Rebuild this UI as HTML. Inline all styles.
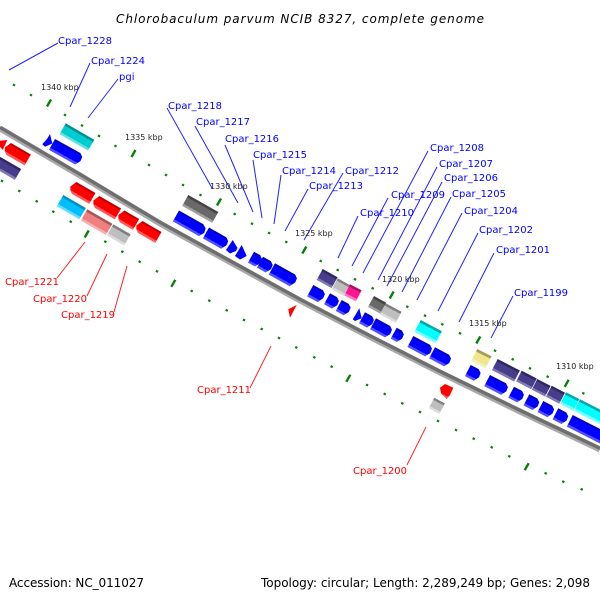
<!DOCTYPE html>
<html><head><meta charset="utf-8"><style>
html,body{margin:0;padding:0;background:#fff}
svg{display:block;filter:blur(.35px)}
text{font-family:"DejaVu Sans","Liberation Sans",sans-serif}
.b text{fill:#0000ff;font-size:10px}
.r text{fill:#ff0000;font-size:10px}
.k text{fill:#222;font-size:8px}
.f text{fill:#000;font-size:12px}
.lb line{stroke:#2222ff;stroke-width:1}
.lr line{stroke:#ff2222;stroke-width:1}
.t line{stroke:#0a7f0a;stroke-width:2.4}
</style></head><body>
<svg width="600" height="600" viewBox="0 0 600 600" xmlns="http://www.w3.org/2000/svg">
<defs>
<linearGradient id="B" x1="0" y1="0" x2="0" y2="1"><stop offset=".14" stop-color="#0000b8"/><stop offset=".14" stop-color="#0000ff"/><stop offset=".8" stop-color="#0000ff"/><stop offset=".8" stop-color="#5050ff"/></linearGradient>
<linearGradient id="R" x1="0" y1="0" x2="0" y2="1"><stop offset=".16" stop-color="#c00000"/><stop offset=".16" stop-color="#ff0000"/><stop offset=".8" stop-color="#ff0000"/><stop offset=".8" stop-color="#ff5555"/></linearGradient>
<linearGradient id="P" x1="0" y1="0" x2="0" y2="1"><stop offset=".2" stop-color="#2e2766"/><stop offset=".2" stop-color="#483d8b"/><stop offset=".8" stop-color="#483d8b"/><stop offset=".8" stop-color="#8078b0"/></linearGradient>
<linearGradient id="T" x1="0" y1="0" x2="0" y2="1"><stop offset=".2" stop-color="#009090"/><stop offset=".2" stop-color="#00cdcd"/><stop offset=".8" stop-color="#00cdcd"/><stop offset=".8" stop-color="#66e0e0"/></linearGradient>
<linearGradient id="C" x1="0" y1="0" x2="0" y2="1"><stop offset=".2" stop-color="#00aaaa"/><stop offset=".2" stop-color="#00ffff"/><stop offset=".8" stop-color="#00ffff"/><stop offset=".8" stop-color="#77ffff"/></linearGradient>
<linearGradient id="D" x1="0" y1="0" x2="0" y2="1"><stop offset=".2" stop-color="#444"/><stop offset=".2" stop-color="#696969"/><stop offset=".8" stop-color="#696969"/><stop offset=".8" stop-color="#a0a0a0"/></linearGradient>
<linearGradient id="G" x1="0" y1="0" x2="0" y2="1"><stop offset=".2" stop-color="#808080"/><stop offset=".2" stop-color="#bebebe"/><stop offset=".8" stop-color="#bebebe"/><stop offset=".8" stop-color="#dcdcdc"/></linearGradient>
<linearGradient id="S" x1="0" y1="0" x2="0" y2="1"><stop offset=".2" stop-color="#0090c0"/><stop offset=".2" stop-color="#00bfff"/><stop offset=".8" stop-color="#00bfff"/><stop offset=".8" stop-color="#66d9ff"/></linearGradient>
<linearGradient id="O" x1="0" y1="0" x2="0" y2="1"><stop offset=".2" stop-color="#a85858"/><stop offset=".2" stop-color="#f08080"/><stop offset=".8" stop-color="#f08080"/><stop offset=".8" stop-color="#f5b0b0"/></linearGradient>
<linearGradient id="M" x1="0" y1="0" x2="0" y2="1"><stop offset=".2" stop-color="#aa1066"/><stop offset=".2" stop-color="#ff1493"/><stop offset=".8" stop-color="#ff1493"/><stop offset=".8" stop-color="#ff77bb"/></linearGradient>
<linearGradient id="K" x1="0" y1="0" x2="0" y2="1"><stop offset=".2" stop-color="#a89a5c"/><stop offset=".2" stop-color="#f0e68c"/><stop offset=".8" stop-color="#f0e68c"/><stop offset=".8" stop-color="#f5f0bb"/></linearGradient>
</defs>

<text x="300" y="23" text-anchor="middle" font-size="12" font-style="italic" fill="#000" textLength="368" lengthAdjust="spacing">Chlorobaculum parvum NCIB 8327, complete genome</text>

<!-- backbone -->
<polyline points="0,128.5 80,175.5 160,223.5 230,262 300,300.5 370,337 440,372.5 520,411.5 600,449.5" fill="none" stroke="#a9a9a9" stroke-width="6"/>
<polyline points="0,127.3 80,174.3 160,222.3 230,260.8 300,299.3 370,335.8 440,371.3 520,410.3 600,448.3" fill="none" stroke="#6e6e6e" stroke-width="3.4"/>

<!-- upper ticks -->
<g class="t">
<line x1="13.5" y1="86" x2="14.5" y2="84"/><line x1="30.5" y1="96" x2="31.5" y2="94"/><line x1="47" y1="106.5" x2="51" y2="99.5"/><line x1="64.5" y1="116" x2="65.5" y2="114"/><line x1="81.5" y1="126.5" x2="82.5" y2="124.5"/><line x1="98.5" y1="137" x2="99.5" y2="135"/><line x1="115" y1="147" x2="116" y2="145"/><line x1="131.5" y1="157" x2="135.5" y2="150"/><line x1="148.5" y1="166" x2="149.5" y2="164"/><line x1="165.5" y1="176" x2="166.5" y2="174"/><line x1="182.5" y1="186" x2="183.5" y2="184"/><line x1="200" y1="196" x2="201" y2="194"/><line x1="217" y1="205.5" x2="221" y2="198.5"/><line x1="234.2" y1="215" x2="235.2" y2="213"/><line x1="251.5" y1="224.7" x2="252.5" y2="222.7"/><line x1="268.5" y1="234" x2="269.5" y2="232"/><line x1="285.8" y1="243" x2="286.8" y2="241"/><line x1="302.3" y1="253.5" x2="306.3" y2="246.5"/><line x1="320.2" y1="262" x2="321.2" y2="260"/><line x1="337.2" y1="271" x2="338.2" y2="269"/><line x1="354.5" y1="280.3" x2="355.5" y2="278.3"/><line x1="372.2" y1="289.3" x2="373.2" y2="287.3"/><line x1="389.7" y1="298.5" x2="393.7" y2="291.5"/><line x1="406.8" y1="307.7" x2="407.8" y2="305.7"/><line x1="424.5" y1="316.7" x2="425.5" y2="314.7"/><line x1="441.8" y1="325.3" x2="442.8" y2="323.3"/><line x1="459.5" y1="334.3" x2="460.5" y2="332.3"/><line x1="476.3" y1="343.5" x2="480.3" y2="336.5"/><line x1="494.5" y1="351.7" x2="495.5" y2="349.7"/><line x1="512.2" y1="360.3" x2="513.2" y2="358.3"/><line x1="529.5" y1="369.3" x2="530.5" y2="367.3"/><line x1="547.2" y1="377.7" x2="548.2" y2="375.7"/><line x1="564.7" y1="386.8" x2="568.7" y2="379.8"/><line x1="582.8" y1="394.3" x2="583.8" y2="392.3"/>
</g>
<!-- lower ticks -->
<g class="t">
<line x1="1.5" y1="182" x2="2.5" y2="180"/><line x1="18.8" y1="192" x2="19.8" y2="190"/><line x1="36.2" y1="202.3" x2="37.2" y2="200.3"/><line x1="52.8" y1="212.7" x2="53.8" y2="210.7"/><line x1="70.2" y1="222.7" x2="71.2" y2="220.7"/><line x1="84.7" y1="237.5" x2="88.7" y2="230.5"/><line x1="104.8" y1="242.7" x2="105.8" y2="240.7"/><line x1="121.8" y1="252.7" x2="122.8" y2="250.7"/><line x1="139.2" y1="262.7" x2="140.2" y2="260.7"/><line x1="156.5" y1="272.3" x2="157.5" y2="270.3"/><line x1="171.3" y1="286.8" x2="175.3" y2="279.8"/><line x1="191.2" y1="292" x2="192.2" y2="290"/><line x1="208.8" y1="301.7" x2="209.8" y2="299.7"/><line x1="226.2" y1="311.3" x2="227.2" y2="309.3"/><line x1="243.5" y1="321" x2="244.5" y2="319"/><line x1="261.2" y1="330" x2="262.2" y2="328"/><line x1="278.5" y1="339" x2="279.5" y2="337"/><line x1="295.8" y1="348.5" x2="296.8" y2="346.5"/><line x1="313.8" y1="358.3" x2="314.8" y2="356.3"/><line x1="331.2" y1="367.7" x2="332.2" y2="365.7"/><line x1="346.3" y1="381.8" x2="350.3" y2="374.8"/><line x1="366.5" y1="386" x2="367.5" y2="384"/><line x1="384.2" y1="395" x2="385.2" y2="393"/><line x1="401.8" y1="404.3" x2="402.8" y2="402.3"/><line x1="419.5" y1="413" x2="420.5" y2="411"/><line x1="437.5" y1="422" x2="438.5" y2="420"/><line x1="455.5" y1="431" x2="456.5" y2="429"/><line x1="473.2" y1="439.7" x2="474.2" y2="437.7"/><line x1="491.2" y1="448.3" x2="492.2" y2="446.3"/><line x1="508.8" y1="457.3" x2="509.8" y2="455.3"/><line x1="524.7" y1="470.2" x2="528.7" y2="463.2"/><line x1="545.2" y1="474.3" x2="546.2" y2="472.3"/><line x1="562.8" y1="482.7" x2="563.8" y2="480.7"/><line x1="581.2" y1="490.3" x2="582.2" y2="488.3"/>
</g>

<!-- connectors blue -->
<g class="lb">
<line x1="58" y1="43" x2="9" y2="70"/><line x1="90" y1="63" x2="70" y2="107"/><line x1="118" y1="79" x2="88" y2="118"/><line x1="167" y1="108" x2="212" y2="188"/><line x1="195" y1="126" x2="238" y2="203"/><line x1="225" y1="145" x2="253" y2="212"/><line x1="253" y1="160" x2="262" y2="218"/><line x1="281" y1="175" x2="274" y2="224"/><line x1="308" y1="189" x2="285" y2="231"/><line x1="343" y1="173" x2="304" y2="240"/><line x1="358" y1="216" x2="338" y2="258"/><line x1="388" y1="198" x2="352" y2="266"/><line x1="428" y1="151" x2="363" y2="273"/><line x1="437" y1="167" x2="378" y2="280"/><line x1="442" y1="182" x2="387" y2="286"/><line x1="451" y1="197" x2="402" y2="292"/><line x1="462" y1="213" x2="417" y2="300"/><line x1="478" y1="233" x2="438" y2="311"/><line x1="494" y1="253" x2="459" y2="322"/><line x1="513" y1="296" x2="491" y2="338"/>
</g>
<g class="lr">
<line x1="57" y1="278" x2="85" y2="242"/><line x1="87" y1="296" x2="107" y2="254"/><line x1="114" y1="312" x2="127" y2="266"/><line x1="250" y1="388" x2="271" y2="346"/><line x1="407" y1="465" x2="426" y2="427"/>
</g>

<!-- genes: left -->
<rect width="33" height="12.5" fill="url(#T)" transform="translate(65.7,123.3)rotate(30)"/>
<polygon points="50,134 52.3,143.5 45,146.7 42.3,144.3 47,139" fill="#0000ff"/>
<polygon points="0,0 29,0 32.5,2.5 33,7 30,12.5 0,12.5" fill="url(#B)" transform="translate(55,139)rotate(29)"/>
<polygon points="0,140.7 7.3,140 2.7,150 0,146.7" fill="#ff0000"/>
<polygon points="4,0 27,0 27,12.5 6,12.5 3,10.5 1,7" fill="url(#R)" transform="translate(7.5,141)rotate(30)"/>
<rect width="36" height="12.5" fill="url(#P)" transform="translate(-10,151)rotate(30)"/>

<polygon points="4,0 26,0 26,12.5 6,12.5 3,10.5 1,7" fill="url(#R)" transform="translate(73,180)rotate(30)"/>
<polygon points="4,0 29,0 29,12.5 6,12.5 3,10.5 1,7" fill="url(#R)" transform="translate(96,194)rotate(30)"/>
<polygon points="4,0 21,0 21,12.5 6,12.5 3,10.5 1,7" fill="url(#R)" transform="translate(121,208.5)rotate(30)"/>
<polygon points="4,0 26,0 26,12.5 6,12.5 3,10.5 1,7" fill="url(#R)" transform="translate(139,219)rotate(30)"/>
<rect width="26" height="13" fill="url(#S)" transform="translate(63.3,195)rotate(30)"/>
<rect width="29" height="13" fill="url(#O)" transform="translate(87.3,209.3)rotate(30)"/>
<rect width="20" height="13" fill="url(#G)" transform="translate(113.3,224.3)rotate(30)"/>

<!-- genes: centre -->
<rect width="34.5" height="12.5" fill="url(#D)" transform="translate(188.3,195)rotate(29.5)"/>
<polygon points="0,0 28,0 32,2.5 33,7 30,12.5 0,12.5" fill="url(#B)" transform="translate(179,210.5)rotate(29.5)"/>
<polygon points="0,0 20,0 23.5,2.5 24,7 21,12.5 0,12.5" fill="url(#B)" transform="translate(209,227.5)rotate(29.5)"/>
<polygon points="232.7,240 237.5,248 236,251 230,253.5 226,250" fill="#0000ff"/>
<polygon points="241.7,245 246.7,256 240,259.5 235,256" fill="#0000ff"/>
<polygon points="0,0 7,0 10.5,2.5 11,7 8,12.5 0,12.5" fill="url(#B)" transform="translate(254,251.7)rotate(29)"/>
<polygon points="0,0 9,0 12.5,2.5 13,7 10,12.5 0,12.5" fill="url(#B)" transform="translate(263,256.7)rotate(29)"/>
<polygon points="0,0 23,0 26.5,2.5 27,7 24,13 0,13" fill="url(#B)" transform="translate(275,263.3)rotate(29)"/>

<rect width="17" height="12.5" fill="url(#P)" transform="translate(322.7,269)rotate(29)"/>
<rect width="14" height="12.5" fill="url(#G)" transform="translate(337.7,278.3)rotate(29)"/>
<rect width="13" height="12.5" fill="url(#M)" transform="translate(350,284.3)rotate(27)"/>
<rect width="14" height="12.5" fill="url(#D)" transform="translate(374,296)rotate(29)"/>
<rect width="18" height="12.5" fill="url(#G)" transform="translate(385.7,303.3)rotate(28)"/>
<rect width="24" height="13.5" fill="url(#C)" transform="translate(420.7,320)rotate(28)"/>

<polygon points="0,0 11,0 14.5,2.5 15,7 12,13 0,13" fill="url(#B)" transform="translate(313.3,285)rotate(28.5)"/>
<polygon points="0,0 8,0 11.5,2.5 12,7 9,12.5 0,12.5" fill="url(#B)" transform="translate(330,293.3)rotate(28.5)"/>
<polygon points="0,0 8,0 11.5,2.5 12,7 9,12.5 0,12.5" fill="url(#B)" transform="translate(341.7,300)rotate(28.5)"/>
<polygon points="359.3,308.3 361.7,318.3 355,321 352.7,319.3 356,314" fill="#0000ff"/>
<polygon points="0,0 8,0 11.5,2.5 12,7 9,12.5 0,12.5" fill="url(#B)" transform="translate(365,312.3)rotate(28.5)"/>
<polygon points="0,0 16,0 19.5,2.5 20,7 17,12.5 0,12.5" fill="url(#B)" transform="translate(376,318.3)rotate(28.5)"/>
<polygon points="0,0 6,0 9.5,2.5 10,7 7,12.5 0,12.5" fill="url(#B)" transform="translate(396.7,327.7)rotate(28.5)"/>
<polygon points="0,0 19,0 22.5,2.5 23,7 20,12.5 0,12.5" fill="url(#B)" transform="translate(413.3,336)rotate(28)"/>
<polygon points="0,0 16,0 19.5,2.5 20,7 17,12.5 0,12.5" fill="url(#B)" transform="translate(435,347.3)rotate(28)"/>

<polygon points="445,384 453.3,387.7 450,395 446.7,399 441,393.3 440,387.7" fill="#ff0000"/>
<polygon points="441,393.3 446.7,396.5 449.8,395.5 446.7,399" fill="#ff6060"/>
<rect width="12" height="12" fill="url(#G)" transform="translate(434.3,397.7)rotate(28)"/>
<polygon points="296.7,305 290,317.7 288.3,309.3" fill="#ff0000"/>

<!-- genes: right -->
<rect width="16" height="13.5" fill="url(#K)" transform="translate(477.3,349)rotate(27)"/>
<rect width="25" height="12.5" fill="url(#P)" transform="translate(497.7,359)rotate(27.5)"/>
<rect width="17" height="12" fill="url(#P)" transform="translate(521.7,370.7)rotate(27.5)"/>
<rect width="15" height="12" fill="url(#P)" transform="translate(537.3,379)rotate(27.5)"/>
<rect width="15" height="12.5" fill="url(#P)" transform="translate(551.7,385.7)rotate(27.5)"/>
<rect width="15" height="13" fill="url(#C)" transform="translate(566,392.3)rotate(27)"/>
<rect width="30" height="13" fill="url(#C)" transform="translate(580,399.3)rotate(27)"/>

<polygon points="0,0 9,0 12.5,2.5 13,7 10,12.5 0,12.5" fill="url(#B)" transform="translate(470.7,365)rotate(27.5)"/>
<polygon points="0,0 18,0 21.5,2.5 22,7 19,12.5 0,12.5" fill="url(#B)" transform="translate(490,375)rotate(27.5)"/>
<polygon points="0,0 9,0 12.5,2.5 13,7 10,12.5 0,12.5" fill="url(#B)" transform="translate(514,386.7)rotate(27.5)"/>
<polygon points="0,0 9,0 12.5,2.5 13,7 10,12.5 0,12.5" fill="url(#B)" transform="translate(529.3,394.3)rotate(27.5)"/>
<polygon points="0,0 10,0 13.5,2.5 14,7 11,12.5 0,12.5" fill="url(#B)" transform="translate(543.3,401)rotate(27.5)"/>
<polygon points="0,0 9,0 12.5,2.5 13,7 10,12.5 0,12.5" fill="url(#B)" transform="translate(558.3,408.3)rotate(27.5)"/>
<rect width="50" height="13" fill="url(#B)" transform="translate(572.7,415)rotate(27)"/>

<!-- labels -->
<g class="b">
<text x="58" y="44">Cpar_1228</text><text x="91" y="64">Cpar_1224</text><text x="119" y="80">pgi</text><text x="168" y="109">Cpar_1218</text><text x="196" y="125">Cpar_1217</text><text x="225" y="142">Cpar_1216</text><text x="253" y="158">Cpar_1215</text><text x="282" y="174">Cpar_1214</text><text x="345" y="174">Cpar_1212</text><text x="309" y="189">Cpar_1213</text><text x="391" y="198">Cpar_1209</text><text x="360" y="216">Cpar_1210</text><text x="430" y="151">Cpar_1208</text><text x="439" y="167">Cpar_1207</text><text x="444" y="181">Cpar_1206</text><text x="452" y="197">Cpar_1205</text><text x="464" y="214">Cpar_1204</text><text x="479" y="233">Cpar_1202</text><text x="496" y="253">Cpar_1201</text><text x="514" y="296">Cpar_1199</text>
</g>
<g class="r">
<text x="5" y="285">Cpar_1221</text><text x="33" y="302">Cpar_1220</text><text x="61" y="318">Cpar_1219</text><text x="197" y="393">Cpar_1211</text><text x="353" y="474">Cpar_1200</text>
</g>
<g class="k">
<text x="41" y="90">1340 kbp</text><text x="125" y="140">1335 kbp</text><text x="210" y="189">1330 kbp</text><text x="295" y="236">1325 kbp</text><text x="382" y="282">1320 kbp</text><text x="469" y="326">1315 kbp</text><text x="556" y="369">1310 kbp</text>
</g>
<g class="f">
<text x="9" y="587" textLength="135" lengthAdjust="spacing">Accession: NC_011027</text>
<text x="261" y="587" textLength="329" lengthAdjust="spacing">Topology: circular; Length: 2,289,249 bp; Genes: 2,098</text>
</g>
</svg>
</body></html>
